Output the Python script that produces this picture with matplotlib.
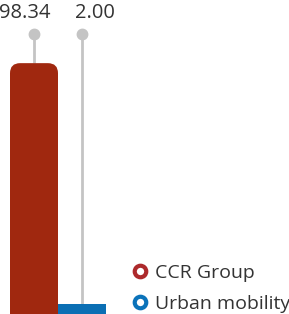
import matplotlib
matplotlib.use('Agg')
import matplotlib.pyplot as plt
from matplotlib.patches import FancyBboxPatch
from matplotlib.lines import Line2D

# data
series = ['CCR Group', 'Urban mobility']
values = [98.34, 2.00]
labels = ['98.34', '2.00']
colors = ['#a0280f', '#0b6fb4']
legend_colors = ['#ad2a2c', '#0b73ba']

plt.rcParams['font.family'] = ['Open Sans', 'DejaVu Sans']

fig = plt.figure(figsize=(2.89, 3.14), dpi=100)
ax = fig.add_axes([0, 0, 1, 1])
ax.set_xlim(-34 / 48, (289 - 34) / 48)
ax.set_ylim(-2, 123.6)
ax.axis('off')

stem_top = 110
label_y = 118.6
base = -12
label_dx = [-7, 9]  # value labels sit a bit off the stems (points)

for i, (v, c, lab) in enumerate(zip(values, colors, labels)):
    # stem + dot
    ax.plot([i, i], [v, stem_top], color='#c4c4c4', lw=2, zorder=1,
            solid_capstyle='butt')
    ax.plot(i, stem_top, 'o', color='#c4c4c4', ms=7.5, zorder=2)
    # bar, rounded top corners on the big one
    if i == 0:
        p = FancyBboxPatch((i - 0.5, base), 1, v - base,
                           boxstyle='round,pad=0,rounding_size=0.21',
                           mutation_aspect=19.2, fc=c, ec='none', zorder=3)
        ax.add_patch(p)
    else:
        ax.bar(i, v - base, bottom=base, width=1, color=c, zorder=3)
    ax.annotate(lab, (i, label_y), xytext=(label_dx[i], 0),
                textcoords='offset points', ha='center', va='center',
                fontsize=14.5, color='#333333')

handles = [Line2D([], [], marker='o', ls='none', mfc='white', mec=lc,
                  mew=3, ms=8.3) for lc in legend_colors]
leg = ax.legend(handles, series, loc='lower right',
                bbox_to_anchor=(1.05, -0.04),
                frameon=False, fontsize=14, handletextpad=0.25,
                handlelength=1.0, labelspacing=0.68, borderpad=0.2)
for t in leg.get_texts():
    t.set_color('#333333')

fig.savefig('out.png', dpi=100)
